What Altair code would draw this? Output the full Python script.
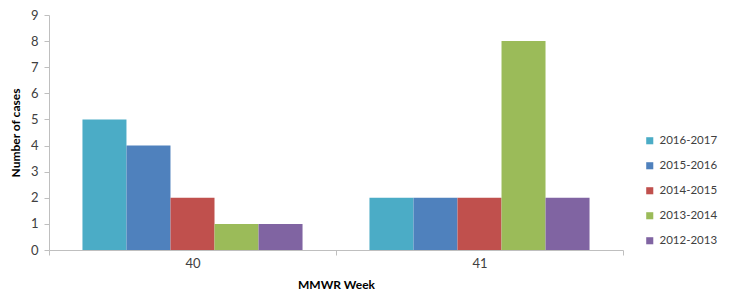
import altair as alt
import pandas as pd

weeks = ["40", "41"]
seasons = ["2016-2017", "2015-2016", "2014-2015", "2013-2014", "2012-2013"]
week40 = [5, 4, 2, 1, 1]
week41 = [2, 2, 2, 8, 2]
colors = ["#4BACC6", "#4F81BD", "#C0504D", "#9BBB59", "#8064A2"]

rows = []
for w, vals in zip(weeks, [week40, week41]):
    for s, v in zip(seasons, vals):
        rows.append({"week": w, "season": s, "cases": v})
df = pd.DataFrame(rows)

font = "Lato"

chart = alt.Chart(df).mark_bar(size=44).encode(
    x=alt.X("week:N", sort=weeks, title="MMWR Week",
            scale=alt.Scale(paddingInner=0, paddingOuter=0),
            axis=alt.Axis(labelAngle=0, tickBand="extent", domainColor="#BFBFBF",
                          tickColor="#BFBFBF", tickSize=5, labelPadding=2,
                          labelFontSize=13, labelColor="#404040", labelFont=font,
                          titleFont=font, titleFontSize=12, titleFontWeight="bold",
                          titleColor="#000000", titlePadding=9)),
    xOffset=alt.XOffset("season:N", sort=seasons,
                        scale=alt.Scale(paddingInner=0, paddingOuter=0.76)),
    y=alt.Y("cases:Q", title="Number of cases",
            scale=alt.Scale(domain=[0, 9], nice=False),
            axis=alt.Axis(values=list(range(10)), grid=False, domainColor="#BFBFBF",
                          tickColor="#BFBFBF", tickSize=5, labelPadding=6,
                          labelFontSize=13, labelColor="#404040", labelFont=font,
                          titleFont=font, titleFontSize=12, titleFontWeight="bold",
                          titleColor="#000000", titlePadding=8)),
    color=alt.Color("season:N", sort=seasons,
                    scale=alt.Scale(domain=seasons, range=colors),
                    legend=alt.Legend(title=None, orient="none", legendX=595, legendY=120,
                                      symbolType="square", symbolSize=50,
                                      symbolStrokeWidth=0, rowPadding=12,
                                      labelFontSize=11.5, labelColor="#404040",
                                      labelFont=font)),
).properties(
    width=574, height=235,
    autosize=alt.AutoSizeParams(type="none"),
    padding={"left": 41, "top": 7, "right": 100, "bottom": 44},
).configure_view(stroke=None)

chart.save("out.html", embed_options={"renderer": "svg", "actions": False})
